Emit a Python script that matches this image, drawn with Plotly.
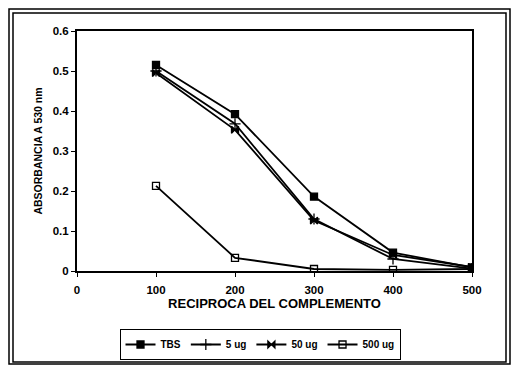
import plotly.graph_objects as go

# Reciprocal complement dilution vs absorbance at 530 nm
dilution = [100, 200, 300, 400, 500]
tbs = [0.515, 0.392, 0.186, 0.046, 0.009]
ug_5 = [0.500, 0.368, 0.130, 0.030, 0.006]
ug_50 = [0.495, 0.353, 0.126, 0.040, 0.010]
ug_500 = [0.213, 0.033, 0.005, 0.003, 0.005]

W, H = 514, 365
L, R, T, B = 77, 472, 31, 271  # plot area in pixels


def px_x(x):
    return (x - L) / (R - L)


def px_y(y):
    return (B - y) / (B - T)


series = [
    ("TBS", tbs, "square", 7),
    ("5 ug", ug_5, "cross-thin-open", 8),
    ("50 ug", ug_50, "bowtie", 7),
    ("500 ug", ug_500, "square-open", 7),
]

fig = go.Figure()
for name, vals, sym, size in series:
    fig.add_trace(go.Scatter(
        x=dilution, y=vals, name=name, mode="lines+markers",
        line=dict(color="black", width=1.8),
        marker=dict(symbol=sym, size=size, color="black",
                    line=dict(color="black", width=1.3)),
    ))

tick_font = dict(family="Liberation Sans, Arial", size=11.5, color="black", weight="bold")

fig.update_layout(
    width=W, height=H,
    margin=dict(l=L, r=W - R, t=T, b=H - B, autoexpand=False),
    paper_bgcolor="white", plot_bgcolor="white",
    showlegend=True,
    legend=dict(
        orientation="h", x=px_x(260), y=px_y(360), xanchor="center", yanchor="bottom",
        bordercolor="black", borderwidth=1, bgcolor="white",
        font=dict(family="Liberation Sans, Arial", size=10, color="black", weight="bold"),
        itemwidth=30, tracegroupgap=0,
    ),
    xaxis=dict(
        range=[0, 500], tickvals=[0, 100, 200, 300, 400, 500],
        showgrid=False, zeroline=False, showline=True, linecolor="black", linewidth=2,
        mirror=True, ticks="outside", ticklen=4, tickcolor="black",
        ticklabelstandoff=3,
        tickfont=tick_font,
        title=dict(text="RECIPROCA DEL COMPLEMENTO",
                   font=dict(family="Liberation Sans, Arial", size=13, color="black", weight="bold"),
                   standoff=0),
    ),
    yaxis=dict(
        range=[0, 0.6], tickvals=[0, 0.1, 0.2, 0.3, 0.4, 0.5, 0.6],
        ticktext=["0", "0.1", "0.2", "0.3", "0.4", "0.5", "0.6"],
        showgrid=False, zeroline=False, showline=True, linecolor="black", linewidth=2,
        mirror=True, ticks="outside", ticklen=4, tickcolor="black",
        tickfont=tick_font,
        title=dict(text="ABSORBANCIA A 530 nm",
                   font=dict(family="Liberation Sans, Arial", size=10.5, color="black", weight="bold"),
                   standoff=8),
    ),
)

# Double-line outer frame
for x0, y0, x1, y1 in [(9, 9, 510, 364), (13, 13, 506, 362)]:
    fig.add_shape(type="rect", xref="paper", yref="paper",
                  x0=px_x(x0), x1=px_x(x1), y0=px_y(y1), y1=px_y(y0),
                  line=dict(color="black", width=1.5), layer="below")

fig.write_html("out.html")
